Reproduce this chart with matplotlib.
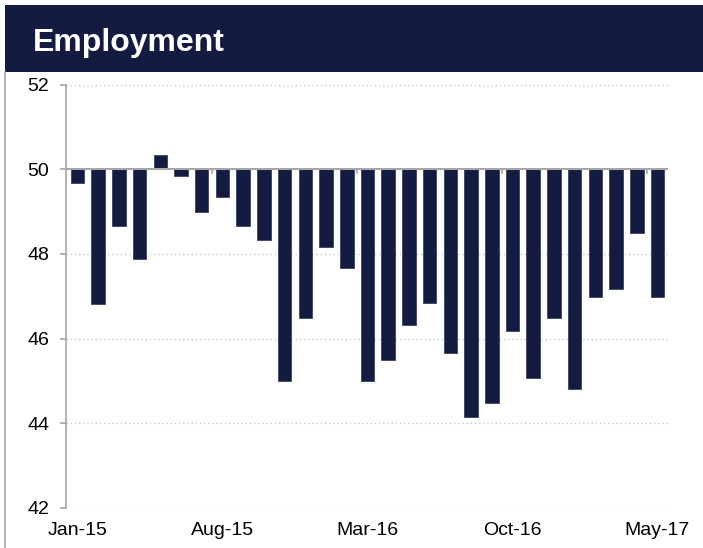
import matplotlib.pyplot as plt
from matplotlib.patches import Rectangle
from matplotlib.lines import Line2D

plt.rcParams['font.family'] = ['Liberation Sans', 'DejaVu Sans']

# monthly index readings, Jan-15 .. May-17
months = ["Jan-15", "Feb-15", "Mar-15", "Apr-15", "May-15", "Jun-15", "Jul-15",
          "Aug-15", "Sep-15", "Oct-15", "Nov-15", "Dec-15", "Jan-16", "Feb-16",
          "Mar-16", "Apr-16", "May-16", "Jun-16", "Jul-16", "Aug-16", "Sep-16",
          "Oct-16", "Nov-16", "Dec-16", "Jan-17", "Feb-17", "Mar-17", "Apr-17",
          "May-17"]
values = [49.67, 46.82, 48.66, 47.87, 50.33, 49.83, 49.0, 49.34, 48.66, 48.33,
          45.0, 46.49, 48.16, 47.66, 45.0, 45.5, 46.32, 46.83, 45.65, 44.15,
          44.48, 46.17, 45.06, 46.49, 44.82, 46.99, 47.16, 48.5, 46.99]
label_every = 7
yticks = [42, 44, 46, 48, 50, 52]
baseline = 50

navy = "#131c40"

fig = plt.figure(figsize=(7.03, 5.48), dpi=100)

# header band
fig.patches.append(Rectangle((0.0071, 0.8686), 0.9929, 0.1223, transform=fig.transFigure,
                             facecolor=navy, edgecolor="none", zorder=0))
fig.text(0.047, 0.922, "Employment", color="white", fontsize=23, fontweight="bold",
         va="center", ha="left")
# left frame line
fig.lines.append(Line2D([0.0075, 0.0075], [0.0, 0.8686], transform=fig.transFigure,
                        color="#a6a6a6", lw=1.2))

ax = fig.add_axes([0.094, 0.073, 0.856, 0.7728])
x = list(range(len(months)))
heights = [v - baseline for v in values]
ax.bar(x, heights, bottom=baseline, width=0.65, color=navy, edgecolor="#3a4263",
       linewidth=0.6, zorder=3)

ax.set_ylim(42, 52)
ax.set_xlim(-0.55, len(months) - 0.5)
ax.set_yticks(yticks)
for y in yticks:
    if y != baseline:
        ax.axhline(y, color="#c8c8c8", lw=1.0, ls=(0, (1, 2)), zorder=1)
ax.axhline(baseline, color="#a6a6a6", lw=1.5, zorder=4)

# category-boundary ticks on the 50 line
for i in range(label_every - 1, len(months), label_every):
    ax.plot([i + 0.5, i + 0.5], [baseline, baseline - 0.09], color="#a6a6a6", lw=1.2,
            zorder=4, clip_on=False)

ax.set_xticks(x[::label_every])
ax.set_xticklabels(months[::label_every], fontsize=14)
ax.tick_params(axis="x", length=0, pad=10)
ax.tick_params(axis="y", labelsize=14, length=4, color="#a6a6a6", width=1.2, pad=8)

for s in ["top", "right", "bottom"]:
    ax.spines[s].set_visible(False)
ax.spines["left"].set_color("#a6a6a6")
ax.spines["left"].set_linewidth(1.2)

fig.savefig("out.png", dpi=100)
